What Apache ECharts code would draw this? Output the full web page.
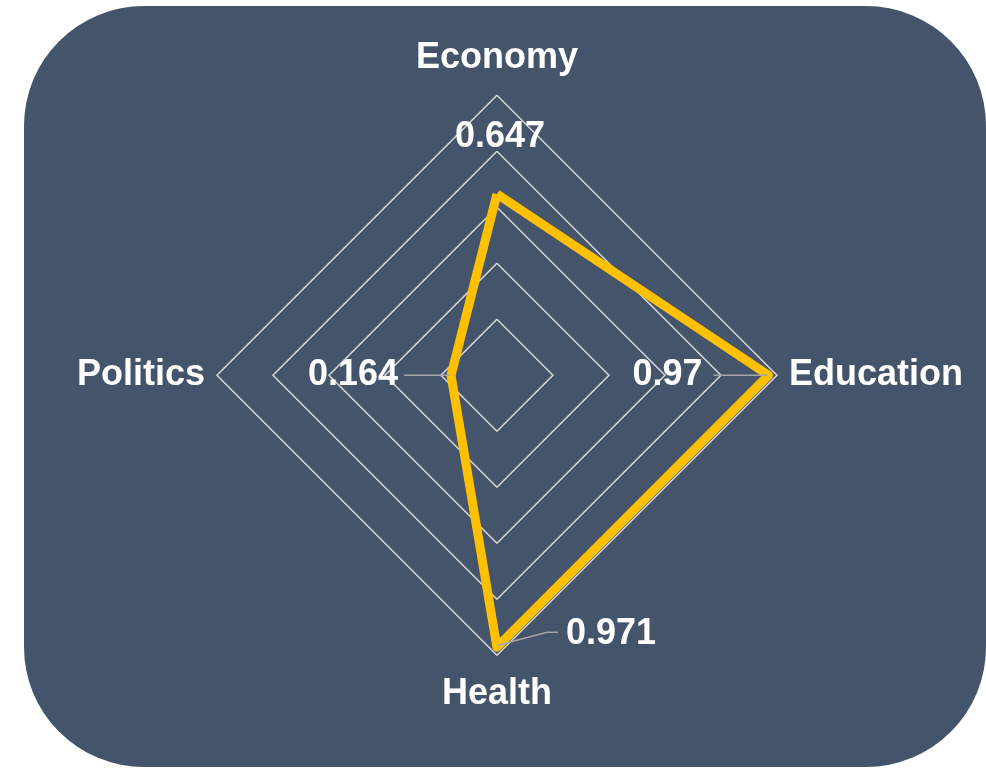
<!DOCTYPE html>
<html>
<head>
<meta charset="utf-8">
<script src="https://cdn.jsdelivr.net/npm/echarts@6/dist/echarts.min.js"></script>
<style>
html,body{margin:0;padding:0;background:#fff;}
#chart{width:986px;height:769px;}
</style>
</head>
<body>
<div id="chart"></div>
<script>
// indicator order placed counter-clockwise from the top (ECharts default)
const categories = ['Economy', 'Politics', 'Health', 'Education'];
const values = [0.647, 0.164, 0.971, 0.97];
const valueLabels = ['0.647', '0.164', '0.971', '0.97'];
const axisMax = 1;

const FONT = '"Liberation Sans", Arial, sans-serif';
const FS = 36;
const chart = echarts.init(document.getElementById('chart'), null, {renderer: 'canvas'});

// per-indicator name nudges (styling only)
const nameRich = {
  top: {padding: [0, 0, 7, 0]},
  bottom: {padding: [9, 0, 0, 0]},
  side: {padding: [0, 0, 0, 0]}
};
const nameSlot = {Economy: 'top', Health: 'bottom', Politics: 'side', Education: 'side'};
Object.keys(nameRich).forEach(k => Object.assign(nameRich[k], {
  color: '#ffffff', fontFamily: FONT, fontWeight: 'bold', fontSize: FS
}));

const option = {
  animation: false,
  backgroundColor: '#ffffff',
  graphic: [{
    id: 'bg', type: 'rect', z: -10,
    shape: {x: 24, y: 6, width: 962, height: 761, r: 120},
    style: {fill: '#44546A'}
  }],
  radar: {
    center: ['50.4%', '48.8%'],
    radius: 280,
    startAngle: 90,
    shape: 'polygon',
    splitNumber: 5,
    indicator: categories.map(n => ({name: n, min: 0, max: axisMax})),
    axisName: {
      color: '#ffffff',
      fontFamily: FONT,
      fontWeight: 'bold',
      fontSize: FS,
      formatter: (name) => '{' + nameSlot[name] + '|' + name + '}',
      rich: nameRich
    },
    nameGap: 12,
    axisLine: {show: false},
    axisTick: {show: false},
    axisLabel: {show: false},
    splitArea: {show: false},
    splitLine: {lineStyle: {color: '#D9D9D9', width: 1.5}}
  },
  series: [{
    type: 'radar',
    symbol: 'none',
    lineStyle: {color: '#FFC000', width: 9, join: 'round'},
    data: [{value: values}]
  }]
};
chart.setOption(option);

// label offsets relative to each data point (styling only)
const labelStyle = [
  {dx: 3, dy: -57, align: 'center', line: null},
  {dx: -53, dy: 0, align: 'right', line: [[-1, 0], [-47, 0]]},
  {dx: 69, dy: -13, align: 'left', line: [[1, -2], [50, -15], [61, -15]]},
  {dx: -66, dy: 0, align: 'right', line: [[-1, 0], [-55, 0]]}
];

function pointOf(i) {
  try {
    const cs = chart.getModel().getComponent('radar', 0).coordinateSystem;
    return cs.dataToPoint(values[i], i);
  } catch (e) {
    const cx = 986 * 0.504, cy = 769 * 0.488, r = 280;
    const a = Math.PI / 2 + i * 2 * Math.PI / categories.length;
    const k = values[i] / axisMax;
    return [cx + r * k * Math.cos(a), cy - r * k * Math.sin(a)];
  }
}

const extra = [];
values.forEach((v, i) => {
  const p = pointOf(i);
  const s = labelStyle[i];
  if (s.line) {
    extra.push({
      id: 'll' + i, type: 'polyline', z: 50,
      shape: {points: s.line.map(q => [p[0] + q[0], p[1] + q[1]])},
      style: {stroke: '#A6A6A6', lineWidth: 1.5, fill: null}
    });
  }
  extra.push({
    id: 'lb' + i, type: 'text', z: 60,
    style: {
      text: valueLabels[i],
      x: p[0] + s.dx, y: p[1] + s.dy,
      fill: '#ffffff',
      font: 'bold ' + FS + 'px ' + FONT,
      textAlign: s.align,
      textVerticalAlign: 'middle'
    }
  });
});
chart.setOption({graphic: extra});
</script>
</body>
</html>
